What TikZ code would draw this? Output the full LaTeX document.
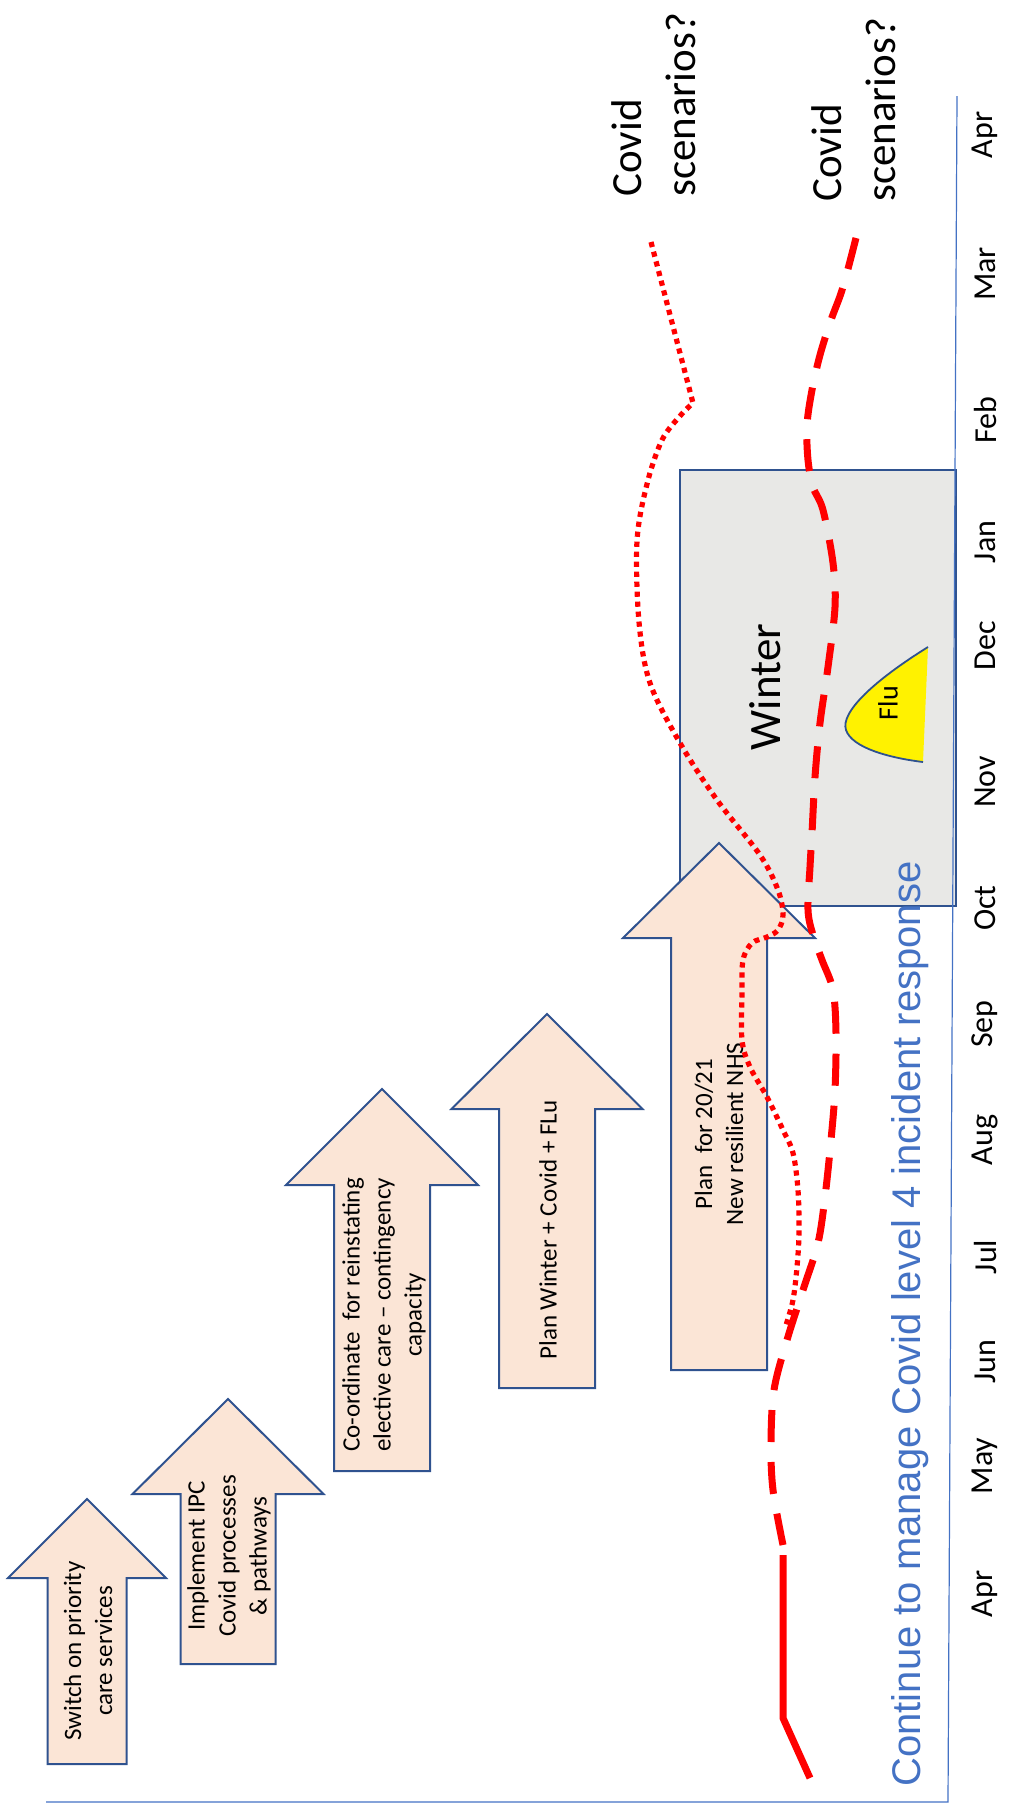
\documentclass[tikz,border=0pt]{standalone}
\usepackage{fontspec}
\setmainfont{Carlito}
\newfontfamily\arialfont{Liberation Sans}
\usetikzlibrary{positioning}
\definecolor{arrowfill}{HTML}{FBE5D6}
\definecolor{outline}{HTML}{2F528F}
\definecolor{officeblue}{HTML}{4472C4}
\definecolor{wintergrey}{HTML}{E8E8E6}

% cx, shaft half width, bottom, head base, head half width, tip
\newcommand{\blockarrow}[7]{%
  \draw[arrowbox] (#2-#3,#4) coordinate (#1) -- (#2-#3,#5) -- (#2-#6,#5) -- (#2,#7)
    -- (#2+#6,#5) -- (#2+#3,#5) -- (#2+#3,#4) -- cycle;}

\begin{document}
\begin{tikzpicture}[x=0.5pt, y=-0.5pt,
  arrowbox/.style={draw=outline, fill=arrowfill, line width=1pt, line join=miter},
  arrowtxt/.style={rotate=90, align=center, inner sep=0pt, font=\fontsize{12.5}{15.5}\selectfont},
  month/.style={rotate=90, inner sep=0pt, font=\fontsize{16}{19}\selectfont},
  scen/.style={rotate=90, align=left, anchor=west, inner sep=0pt, font=\fontsize{21.5}{27}\selectfont},
  axisline/.style={draw=officeblue, line width=0.6pt},
  covid/.style={red, line width=3.5pt},
  covidsolid/.style={covid, line join=round},
  coviddash/.style={covid, dash pattern=on 16pt off 10pt},
  coviddot/.style={red, line width=2.6pt, dash pattern=on 2.6pt off 2.4pt}]

\useasboundingbox (0,0) rectangle (1011,1805);

\draw[draw=outline, fill=wintergrey, line width=1pt] (680,470) coordinate (wintertop) rectangle (956,906);
\node[rotate=90, inner sep=0pt, font=\fontsize{22.5}{27}\selectfont] (winter) at (765,687) {Winter};
\fill[yellow] (928,647) .. controls (875,680) and (840,712) .. (846,730)
  .. controls (852,748) and (890,758) .. (923,762) -- cycle;
\draw[outline, line width=0.9pt] (928,647) .. controls (875,680) and (840,712) .. (846,730)
  .. controls (852,748) and (890,758) .. (923,762);
\node[rotate=90, inner sep=0pt, font=\fontsize{14}{17}\selectfont] (flu) at (888,703) {Flu};

\blockarrow{arrowA}{87}{39.5}{1764}{1578}{79}{1499}
\blockarrow{arrowB}{228}{47.5}{1664}{1494}{95.5}{1399}
\blockarrow{arrowC}{382}{48}{1471}{1185}{96}{1089}
\blockarrow{arrowD}{547}{48}{1388}{1109}{95.5}{1014}
\blockarrow{arrowE}{719}{48}{1370}{938}{96}{843}

\node[arrowtxt] (txtA) at (88,1651) {Switch on priority\\care services};
\node[arrowtxt] (txtB) at (229,1556) {Implement IPC\\Covid processes\\\& pathways};
\node[arrowtxt] (txtC) at (384,1315) {Co-ordinate\ \ for reinstating\\elective care -- contingency\\capacity};
\node[arrowtxt] (txtD) at (548,1230) {Plan Winter + Covid + FLu};
\node[arrowtxt] (txtE) at (719,1134) {Plan\ \ for 20/21\\New resilient NHS};

\coordinate (origin) at (46,1802);
\coordinate (corner) at (948,1802);
\coordinate (axistop) at (957,96);
\draw[axisline] (origin) -- (corner) -- (axistop);

\foreach \m/\y [count=\i] in {Apr/1594,May/1466,Jun/1362,Jul/1257,Aug/1140,Sep/1024,
  Oct/908,Nov/782,Dec/646,Jan/542,Feb/420,Mar/274,Apr/135}
  \node[month] (m\i) at (985,\y) {\m};

\node[rotate=90, inner sep=0pt, text=officeblue, font=\arialfont\fontsize{20}{24}\selectfont]
  (response) at (910,1324) {Continue to manage Covid level 4 incident response};

\draw[covidsolid] (810,1778) -- (783,1718) -- (783,1555);
\draw[coviddash] plot[smooth, tension=0.55] coordinates {(783,1545) (773,1490) (771,1443)
  (774,1390) (787,1340) (804,1287) (818,1243) (825,1197) (831,1140) (835,1090) (836,1033)
  (833,990) (822,960) (813,935) (808,910) (810,867) (812,833) (815,777) (820,723) (828,667)
  (835,607) (833,563) (823,510) (813,487) (808,460) (807,425) (812,390) (820,355) (831,320)
  (843,287) (858,230)};
\draw[coviddot] (651,242) -- plot[smooth, tension=0.55] coordinates {(693,403) (680,416)
  (662,440) (647,484) (637,541) (639,622) (650,683) (680,743) (717,800) (760,855) (778,890)
  (783,915) (778,930) (767,937) (752,943) (743,960) (742,993) (742,1040) (750,1067) (767,1097)
  (783,1130) (793,1153) (798,1190) (799,1233) (797,1267) (793,1300) (786,1325)};

\node[scen] (scenA) at (653.5,197) {Covid\\scenarios?};
\node[scen] (scenB) at (853.5,202) {Covid\\scenarios?};

\end{tikzpicture}
\end{document}
